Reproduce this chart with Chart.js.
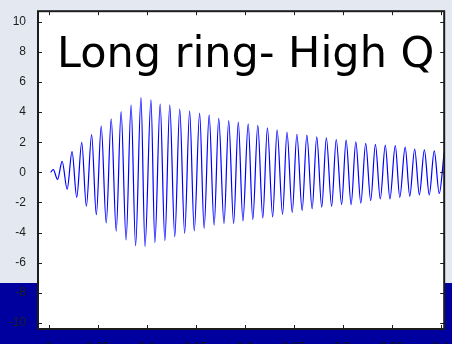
<!DOCTYPE html>
<html>
<head>
<meta charset="utf-8">
<script src="https://cdn.jsdelivr.net/npm/chart.js@4.4.1/dist/chart.umd.min.js"></script>
<style>
    html, body { margin: 0; padding: 0; }
    #wrap {
        width: 452px;
        height: 344px;
        background: linear-gradient(#e4e8f0 0, #e4e8f0 283px, #00009e 283px, #00009e 344px);
    }
</style>
</head>
<body>
<div id="wrap"><canvas id="ringChart" width="452" height="344"></canvas></div>
<script>
const titleText = 'Long ring- High Q';
const xTicks = [0, 0.05, 0.1, 0.15, 0.2, 0.25, 0.3, 0.35, 0.4];
const yTicks = [-10, -8, -6, -4, -2, 0, 2, 4, 6, 8, 10];

// turning points of the ringing trace (time in s, amplitude)
const ringTimes = [
    0.0017, 0.0044,
    0.0088, 0.0135, 0.0186, 0.0236, 0.0284, 0.0335, 0.0382, 0.0436, 0.0484, 0.0534,
    0.0585, 0.0636, 0.0687, 0.0737, 0.0788, 0.0839, 0.0885, 0.0940,
    0.0981, 0.1042, 0.1082, 0.1136, 0.1184, 0.1234, 0.1285, 0.1336, 0.1386, 0.1437,
    0.1484, 0.1539, 0.1585, 0.1636, 0.1687, 0.1734, 0.1788, 0.1836, 0.1886,
    0.1934, 0.1981, 0.2035, 0.2082, 0.2133, 0.2184, 0.2231, 0.2285, 0.2330, 0.2386,
    0.2431, 0.2485, 0.2532, 0.2586, 0.2634, 0.2688, 0.2735, 0.2786, 0.2833, 0.2887,
    0.2934, 0.2989,
    0.3035, 0.3086, 0.3134, 0.3185, 0.3235, 0.3286, 0.3334, 0.3384, 0.3435, 0.3482,
    0.3537, 0.3583, 0.3638, 0.3685, 0.3735, 0.3783, 0.3834, 0.3884, 0.3935, 0.3986,
    0.4037
];
const ringValues = [
    0, 0.18,
    -0.47, 0.73, -1.12, 1.38, -1.66, 1.99, -2.25, 2.51, -2.81, 3.07,
    -3.36, 3.55, -3.90, 4.03, -4.48, 4.46, -4.87, 4.96,
    -4.92, 4.81, -4.66, 4.53, -4.53, 4.46, -4.27, 4.20, -4.05, 4.09,
    -3.88, 3.94, -3.72, 3.81, -3.51, 3.59, -3.40, 3.44, -3.40,
    3.33, -3.22, 3.22, -3.14, 3.12, -3.03, 2.96, -2.96, 2.83, -2.79,
    2.68, -2.66, 2.53, -2.53, 2.47, -2.42, 2.36, -2.31, 2.29, -2.25,
    2.18, -2.14,
    2.14, -2.14, 2.03, -2.05, 1.92, -1.88, 1.86, -1.77, 1.81, -1.77,
    1.77, -1.66, 1.68, -1.58, 1.55, -1.49, 1.49, -1.49, 1.42, -1.40,
    1.38
];

const frameColor = '#1c1c1c';

const plotFrame = {
    id: 'plotFrame',
    beforeDraw(chart) {
        const a = chart.chartArea;
        const ctx = chart.ctx;
        ctx.save();
        ctx.fillStyle = '#ffffff';
        ctx.fillRect(a.left, a.top, a.right - a.left, a.bottom - a.top);
        ctx.restore();
    },
    afterDraw(chart) {
        const a = chart.chartArea;
        const ctx = chart.ctx;
        const xs = chart.scales.x;
        const ys = chart.scales.y;
        ctx.save();
        ctx.strokeStyle = frameColor;
        ctx.lineWidth = 1;
        ctx.beginPath();
        xTicks.forEach((v) => {
            const px = Math.round(xs.getPixelForValue(v)) + 0.5;
            ctx.moveTo(px, a.bottom);
            ctx.lineTo(px, a.bottom - 4);
            ctx.moveTo(px, a.top);
            ctx.lineTo(px, a.top + 4);
        });
        yTicks.forEach((v) => {
            const py = Math.round(ys.getPixelForValue(v)) + 0.5;
            ctx.moveTo(a.left, py);
            ctx.lineTo(a.left + 4, py);
            ctx.moveTo(a.right, py);
            ctx.lineTo(a.right - 4, py);
        });
        ctx.stroke();
        ctx.lineWidth = 2;
        ctx.strokeRect(a.left, a.top, a.right - a.left, a.bottom - a.top);

        ctx.fillStyle = '#000000';
        ctx.font = '43px "DejaVu Sans"';
        ctx.textBaseline = 'alphabetic';
        ctx.textAlign = 'left';
        ctx.fillText(titleText, 57, 67);
        ctx.restore();
    }
};

new Chart(document.getElementById('ringChart'), {
    type: 'line',
    data: {
        datasets: [{
            data: ringTimes.map((t, i) => ({ x: t, y: ringValues[i] })),
            borderColor: '#0000ff',
            borderWidth: 1.2,
            pointRadius: 0,
            cubicInterpolationMode: 'monotone',
            fill: false,
            clip: { left: 0, top: 0, right: 2, bottom: 0 }
        }]
    },
    options: {
        responsive: false,
        animation: false,
        devicePixelRatio: 1,
        layout: { padding: { top: 5, right: 5, left: 0, bottom: 0 } },
        plugins: {
            legend: { display: false },
            tooltip: { enabled: false },
            title: { display: false }
        },
        scales: {
            x: {
                type: 'linear',
                min: -0.01116,
                max: 0.40365,
                grid: { display: false },
                border: { display: false },
                afterBuildTicks: (scale) => {
                    scale.ticks = xTicks.map((v) => ({ value: v }));
                },
                afterFit: (scale) => {
                    scale.height = 15;
                },
                ticks: {
                    autoSkip: false,
                    maxRotation: 0,
                    padding: 3,
                    color: '#101010',
                    font: { family: '"Liberation Sans", Arial', size: 12 },
                    callback: (value) => String(value)
                }
            },
            y: {
                type: 'linear',
                min: -10.4,
                max: 10.7,
                grid: { display: false },
                border: { display: false },
                afterBuildTicks: (scale) => {
                    scale.ticks = yTicks.map((v) => ({ value: v }));
                },
                afterFit: (scale) => {
                    scale.width = 38;
                },
                ticks: {
                    autoSkip: false,
                    padding: 4,
                    color: '#1e1e1e',
                    font: { family: '"Liberation Sans", Arial', size: 12 },
                    callback: (value) => String(value)
                }
            }
        }
    },
    plugins: [plotFrame]
});
</script>
</body>
</html>
